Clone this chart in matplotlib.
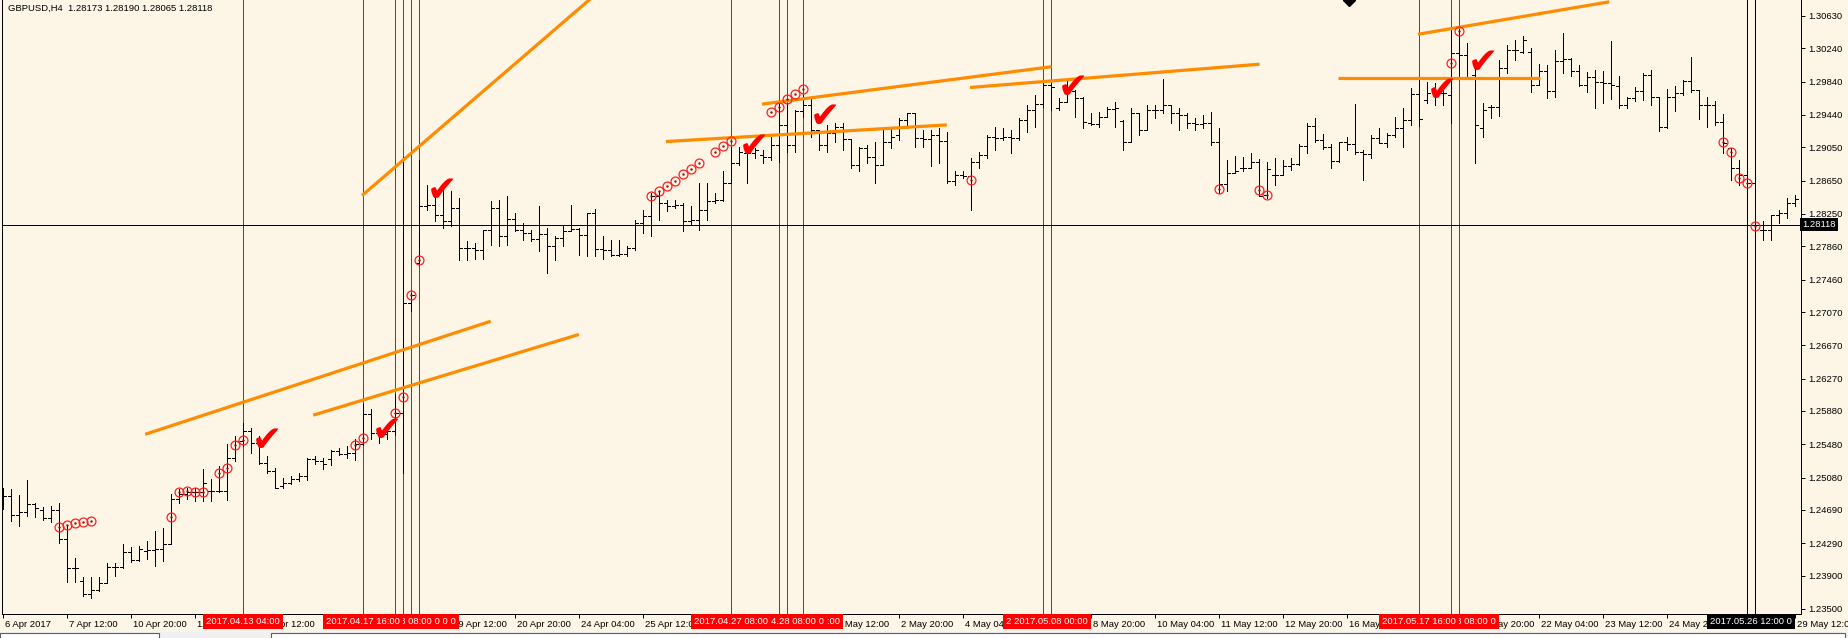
import matplotlib
matplotlib.use("Agg")
import matplotlib.pyplot as plt
import matplotlib.transforms as mtransforms
import numpy as np

# GBPUSD H4 bars, 6 Apr 2017 04:00 .. 29 May 2017 12:00 (bar index = x)
opens = [
    1.2486, 1.2486, 1.2463, 1.2466, 1.2476, 1.2469, 1.2459, 1.2469, 1.2434, 1.2399,
    1.2384, 1.2368, 1.2373, 1.2381, 1.2400, 1.2400, 1.2418, 1.2409, 1.2420, 1.2421,
    1.2422, 1.2428, 1.2482, 1.2488, 1.2490, 1.2490, 1.2492, 1.2492, 1.2492, 1.2532,
    1.2552, 1.2564, 1.2549, 1.2526, 1.2516, 1.2498, 1.2502, 1.2506, 1.2510, 1.2530,
    1.2528, 1.2530, 1.2540, 1.2536, 1.2538, 1.2548, 1.2584, 1.2562, 1.2560, 1.2564,
    1.2586, 1.2718, 1.2766, 1.2834, 1.2836, 1.2824, 1.2817, 1.2832, 1.2784, 1.2784,
    1.2782, 1.2806, 1.2832, 1.2799, 1.2819, 1.2806, 1.2802, 1.2795, 1.2801, 1.2786,
    1.2796, 1.2805, 1.2807, 1.2800, 1.2826, 1.2783, 1.2781, 1.2776, 1.2777, 1.2784,
    1.2814, 1.2822, 1.2846, 1.2838, 1.2834, 1.2836, 1.2816, 1.2818, 1.2830, 1.2840,
    1.2842, 1.2862, 1.2886, 1.2898, 1.2898, 1.2896, 1.2894, 1.2908, 1.2932, 1.2908,
    1.2949, 1.2956, 1.2926, 1.2908, 1.2922, 1.2930, 1.2915, 1.2884, 1.2904, 1.2894,
    1.2884, 1.2912, 1.2920, 1.2938, 1.2946, 1.2916, 1.2915, 1.2920, 1.2913, 1.2864,
    1.2872, 1.2870, 1.2888, 1.2896, 1.2918, 1.2916, 1.2918, 1.2916, 1.2938, 1.2950,
    1.2957, 1.2980, 1.2952, 1.2960, 1.2973, 1.2964, 1.2934, 1.2933, 1.2942, 1.2951,
    1.2937, 1.2912, 1.2946, 1.2926, 1.2950, 1.2950, 1.2956, 1.2946, 1.2944, 1.2934,
    1.2933, 1.2934, 1.2912, 1.2861, 1.2874, 1.2880, 1.2880, 1.2888, 1.2848, 1.2872,
    1.2872, 1.2882, 1.2885, 1.2907, 1.2931, 1.2914, 1.2906, 1.2889, 1.2912, 1.2909,
    1.2900, 1.2897, 1.2916, 1.2910, 1.2920, 1.2928, 1.2938, 1.2969, 1.2962, 1.2970,
    1.2970, 1.2968, 1.3018, 1.3016, 1.2992, 1.2928, 1.2954, 1.2954, 1.3000, 1.3022,
    1.3020, 1.3020, 1.2980, 1.2997, 1.2973, 1.3009, 1.3011, 1.2997, 1.2980, 1.2990,
    1.2984, 1.2982, 1.2979, 1.2956, 1.2964, 1.2973, 1.2992, 1.2966, 1.2930, 1.2966,
    1.2970, 1.2985, 1.2974, 1.2956, 1.2956, 1.2936, 1.2904, 1.2880, 1.2872, 1.2862,
    1.2806, 1.2806, 1.2824, 1.2826, 1.2838]
highs = [
    1.2496, 1.2494, 1.2487, 1.2505, 1.2477, 1.2472, 1.2474, 1.2477, 1.2450, 1.2411,
    1.2388, 1.2388, 1.2388, 1.2405, 1.2405, 1.2428, 1.2424, 1.2426, 1.2432, 1.2444,
    1.2447, 1.2488, 1.2494, 1.2496, 1.2495, 1.2518, 1.2506, 1.2522, 1.2548, 1.2558,
    1.2573, 1.2568, 1.2558, 1.2534, 1.2520, 1.2507, 1.2510, 1.2514, 1.2531, 1.2534,
    1.2531, 1.2541, 1.2544, 1.2546, 1.2554, 1.2596, 1.2590, 1.2568, 1.2568, 1.2608,
    1.2894, 1.2730, 1.2890, 1.2860, 1.2852, 1.2854, 1.2852, 1.2844, 1.2792, 1.2790,
    1.2806, 1.2840, 1.2842, 1.2846, 1.2826, 1.2814, 1.2806, 1.2834, 1.2808, 1.2798,
    1.2811, 1.2836, 1.2808, 1.2826, 1.2831, 1.2798, 1.2794, 1.2794, 1.2786, 1.2818,
    1.2830, 1.2850, 1.2852, 1.2842, 1.2842, 1.2838, 1.2834, 1.2862, 1.2862, 1.2850,
    1.2876, 1.2906, 1.2906, 1.2906, 1.2904, 1.2902, 1.2918, 1.2962, 1.2958, 1.2950,
    1.2968, 1.2964, 1.2926, 1.2932, 1.2934, 1.2934, 1.2915, 1.2906, 1.2908, 1.2912,
    1.2928, 1.2928, 1.2940, 1.2946, 1.2946, 1.2926, 1.2926, 1.2928, 1.2924, 1.2876,
    1.2876, 1.2892, 1.2900, 1.2920, 1.2930, 1.2928, 1.2926, 1.2940, 1.2956, 1.2968,
    1.2986, 1.2982, 1.2964, 1.2986, 1.2974, 1.2966, 1.2946, 1.2948, 1.2954, 1.2960,
    1.2938, 1.2952, 1.2946, 1.2956, 1.2956, 1.2987, 1.2956, 1.2952, 1.2946, 1.2940,
    1.2944, 1.2948, 1.2928, 1.2890, 1.2895, 1.2894, 1.2898, 1.2891, 1.2888, 1.2892,
    1.2890, 1.2892, 1.2909, 1.2934, 1.2940, 1.2921, 1.2909, 1.2912, 1.2918, 1.2957,
    1.2902, 1.2920, 1.2928, 1.2922, 1.2942, 1.2952, 1.2976, 1.2990, 1.2984, 1.2982,
    1.2982, 1.3046, 1.3048, 1.3030, 1.3004, 1.2958, 1.2956, 1.3010, 1.3028, 1.3034,
    1.3039, 1.3024, 1.3005, 1.3004, 1.3022, 1.3042, 1.3012, 1.3004, 1.2996, 1.2998,
    1.2997, 1.3033, 1.2991, 1.2966, 1.2978, 1.2994, 1.2998, 1.2966, 1.2975, 1.2979,
    1.2986, 1.3014, 1.2974, 1.2966, 1.2961, 1.2945, 1.2904, 1.2890, 1.2872, 1.2866,
    1.2816, 1.2824, 1.2830, 1.2844, 1.2848]
lows = [
    1.2470, 1.2456, 1.2450, 1.2462, 1.2460, 1.2457, 1.2454, 1.2429, 1.2382, 1.2382,
    1.2366, 1.2363, 1.2372, 1.2381, 1.2390, 1.2399, 1.2406, 1.2408, 1.2410, 1.2402,
    1.2408, 1.2428, 1.2477, 1.2482, 1.2480, 1.2480, 1.2480, 1.2490, 1.2481, 1.2528,
    1.2546, 1.2538, 1.2524, 1.2513, 1.2495, 1.2496, 1.2500, 1.2504, 1.2505, 1.2524,
    1.2518, 1.2523, 1.2535, 1.2532, 1.2529, 1.2547, 1.2554, 1.2550, 1.2554, 1.2559,
    1.2514, 1.2708, 1.2766, 1.2830, 1.2816, 1.2808, 1.2810, 1.2770, 1.2770, 1.2771,
    1.2771, 1.2788, 1.2786, 1.2788, 1.2804, 1.2794, 1.2792, 1.2780, 1.2754, 1.2770,
    1.2786, 1.2804, 1.2776, 1.2774, 1.2774, 1.2771, 1.2774, 1.2774, 1.2774, 1.2782,
    1.2802, 1.2799, 1.2818, 1.2828, 1.2832, 1.2804, 1.2812, 1.2806, 1.2818, 1.2838,
    1.2840, 1.2862, 1.2884, 1.2862, 1.2892, 1.2886, 1.2890, 1.2888, 1.2900, 1.2900,
    1.2942, 1.2918, 1.2902, 1.2900, 1.2912, 1.2902, 1.2880, 1.2876, 1.2886, 1.2862,
    1.2884, 1.2904, 1.2914, 1.2928, 1.2906, 1.2906, 1.2882, 1.2886, 1.2862, 1.2860,
    1.2868, 1.2830, 1.2880, 1.2892, 1.2902, 1.2914, 1.2898, 1.2914, 1.2924, 1.2930,
    1.2954, 1.2950, 1.2950, 1.2960, 1.2942, 1.2928, 1.2932, 1.2930, 1.2942, 1.2930,
    1.2902, 1.2912, 1.2920, 1.2926, 1.2940, 1.2946, 1.2934, 1.2926, 1.2928, 1.2926,
    1.2928, 1.2908, 1.2850, 1.2852, 1.2874, 1.2876, 1.2880, 1.2846, 1.2844, 1.2860,
    1.2872, 1.2878, 1.2884, 1.2898, 1.2912, 1.2903, 1.2880, 1.2888, 1.2902, 1.2897,
    1.2866, 1.2892, 1.2910, 1.2906, 1.2918, 1.2906, 1.2932, 1.2931, 1.2958, 1.2956,
    1.2956, 1.2934, 1.2990, 1.2988, 1.2886, 1.2918, 1.2940, 1.2943, 1.2994, 1.3010,
    1.3018, 1.2972, 1.2980, 1.2964, 1.2966, 1.2994, 1.2991, 1.2979, 1.2972, 1.2952,
    1.2958, 1.2963, 1.2952, 1.2952, 1.2961, 1.2962, 1.2956, 1.2925, 1.2928, 1.2949,
    1.2968, 1.2972, 1.2939, 1.2930, 1.2932, 1.2898, 1.2866, 1.2860, 1.2858, 1.2807,
    1.2794, 1.2794, 1.2814, 1.2820, 1.2834]
closes = [
    1.2486, 1.2463, 1.2466, 1.2476, 1.2471, 1.2459, 1.2469, 1.2434, 1.2399, 1.2399,
    1.2368, 1.2373, 1.2381, 1.2400, 1.2400, 1.2418, 1.2409, 1.2422, 1.2421, 1.2422,
    1.2428, 1.2482, 1.2488, 1.2490, 1.2490, 1.2502, 1.2492, 1.2492, 1.2532, 1.2552,
    1.2564, 1.2549, 1.2526, 1.2516, 1.2496, 1.2502, 1.2506, 1.2510, 1.2530, 1.2528,
    1.2524, 1.2540, 1.2536, 1.2538, 1.2548, 1.2584, 1.2562, 1.2560, 1.2564, 1.2586,
    1.2718, 1.2728, 1.2834, 1.2836, 1.2824, 1.2817, 1.2832, 1.2784, 1.2784, 1.2782,
    1.2806, 1.2832, 1.2799, 1.2819, 1.2806, 1.2802, 1.2795, 1.2801, 1.2786, 1.2796,
    1.2805, 1.2807, 1.2800, 1.2826, 1.2783, 1.2782, 1.2776, 1.2777, 1.2784, 1.2814,
    1.2822, 1.2846, 1.2838, 1.2834, 1.2836, 1.2816, 1.2818, 1.2830, 1.2840, 1.2842,
    1.2862, 1.2886, 1.2900, 1.2898, 1.2902, 1.2894, 1.2908, 1.2932, 1.2908, 1.2949,
    1.2956, 1.2926, 1.2908, 1.2922, 1.2930, 1.2915, 1.2884, 1.2904, 1.2894, 1.2884,
    1.2912, 1.2918, 1.2938, 1.2946, 1.2916, 1.2915, 1.2920, 1.2913, 1.2864, 1.2872,
    1.2870, 1.2888, 1.2896, 1.2918, 1.2916, 1.2918, 1.2916, 1.2938, 1.2950, 1.2957,
    1.2980, 1.2978, 1.2960, 1.2974, 1.2964, 1.2936, 1.2933, 1.2942, 1.2951, 1.2952,
    1.2912, 1.2946, 1.2926, 1.2950, 1.2950, 1.2956, 1.2946, 1.2944, 1.2934, 1.2933,
    1.2934, 1.2912, 1.2861, 1.2874, 1.2876, 1.2880, 1.2888, 1.2846, 1.2879, 1.2872,
    1.2882, 1.2885, 1.2907, 1.2931, 1.2914, 1.2906, 1.2889, 1.2912, 1.2909, 1.2900,
    1.2897, 1.2916, 1.2910, 1.2920, 1.2928, 1.2938, 1.2969, 1.2939, 1.2970, 1.2970,
    1.2970, 1.3018, 1.3016, 1.2990, 1.2932, 1.2950, 1.2954, 1.3000, 1.3022, 1.3022,
    1.3034, 1.2980, 1.2997, 1.2973, 1.3009, 1.3011, 1.2997, 1.2980, 1.2990, 1.2984,
    1.2982, 1.2980, 1.2956, 1.2964, 1.2973, 1.2992, 1.2966, 1.2930, 1.2966, 1.2970,
    1.2985, 1.2974, 1.2956, 1.2956, 1.2936, 1.2910, 1.2880, 1.2872, 1.2862, 1.2812,
    1.2806, 1.2824, 1.2826, 1.2838, 1.2843]

# time axis labels, one every 8 bars
time_labels = ["6 Apr 2017", "7 Apr 12:00", "10 Apr 20:00", "12 Apr 04:00", "13 Apr 12:00",
               "14 Apr 20:00", "18 Apr 04:00", "19 Apr 12:00", "20 Apr 20:00", "24 Apr 04:00",
               "25 Apr 12:00", "26 Apr 20:00", "28 Apr 04:00", "1 May 12:00", "2 May 20:00",
               "4 May 04:00", "5 May 12:00", "8 May 20:00", "10 May 04:00", "11 May 12:00",
               "12 May 20:00", "16 May 04:00", "17 May 12:00", "18 May 20:00", "22 May 04:00",
               "23 May 12:00", "24 May 20:00", "26 May 04:00", "29 May 12:00"]
price_ticks = [1.30630, 1.30240, 1.29840, 1.29440, 1.29050, 1.28650, 1.28250, 1.27860,
               1.27460, 1.27070, 1.26670, 1.26270, 1.25880, 1.25480, 1.25080, 1.24690,
               1.24290, 1.23900, 1.23500]
bid = 1.28118

# vertical line objects with their time labels
red_bars = [30, 45, 49, 50, 51, 52, 91, 97, 98, 100, 130, 131, 177, 181, 182]
red_texts = ["2017.04.13 04:00", "2017.04.17 16:00", "2017.04.18 08:00", "2017.04.18 12:00",
             "2017.04.18 16:00", "2017.04.18 20:00", "2017.04.27 08:00", "2017.04.28 08:00",
             "2017.04.28 12:00", "2017.04.28 20:00", "2017.05.05 20:00", "2017.05.08 00:00",
             "2017.05.17 16:00", "2017.05.18 08:00", "2017.05.18 12:00"]
black_bars = [218, 219]
black_texts = ["2017.05.26 12:00", "2017.05.26 16:00"]

# trend lines (bar, price) -> (bar, price)
trend_lines = [
    ((44.9, 1.2847), (73.5, 1.3084)),
    ((17.8, 1.2560), (61.0, 1.2696)),
    ((38.8, 1.2583), (72.0, 1.2680)),
    ((82.9, 1.2912), (118.0, 1.2932)),
    ((94.9, 1.2957), (131.1, 1.3002)),
    ((120.9, 1.2977), (157.1, 1.3005)),
    ((166.9, 1.2988), (192.1, 1.2988)),
    ((176.9, 1.3041), (200.8, 1.3080)),
]

# check mark arrows
check_bars = [33.0, 48.0, 54.9, 93.9, 102.8, 133.8, 179.9, 185.0]
check_prices = [1.2552, 1.2564, 1.2853, 1.2906, 1.2941, 1.2976, 1.2973, 1.3006]

# circle signals
circle_bars = [7, 8, 9, 10, 11, 21, 22, 23, 24, 25, 27, 28, 29, 30, 44, 45, 49, 50, 51, 52,
               81, 82, 83, 84, 85, 86, 87, 89, 90, 91, 96, 97, 98, 99, 100, 121, 152, 157, 158,
               181, 182, 215, 216, 217, 218, 219]
circle_prices = [1.2449, 1.2451, 1.2453, 1.2455, 1.2456, 1.2461, 1.2490, 1.2492, 1.2491, 1.2491,
                 1.2514, 1.2519, 1.2547, 1.2553, 1.2547, 1.2555, 1.2586, 1.2605, 1.2728, 1.2769,
                 1.2846, 1.2852, 1.2859, 1.2865, 1.2873, 1.2879, 1.2886, 1.2899, 1.2907, 1.2913,
                 1.2948, 1.2954, 1.2963, 1.2969, 1.2975, 1.2866, 1.2855, 1.2854, 1.2848,
                 1.3007, 1.3045, 1.2911, 1.2900, 1.2868, 1.2862, 1.2811]

bg = "#FDF5E6"
font = "Liberation Sans"
fs = 6.8
px = 0.72  # one pixel in points at 100 dpi

fig = plt.figure(figsize=(18.48, 6.38), dpi=100)
fig.patch.set_facecolor(bg)
ax = fig.add_axes([2 / 1848, 24 / 638, 1799 / 1848, 614 / 638])
ax.set_facecolor(bg)
ax.set_xlim(-0.1, 224.775)
ax.set_ylim(1.23439, 1.30822)

x = np.arange(len(opens))

# vertical lines
for b in red_bars:
    ax.axvline(b, color="red", lw=px, antialiased=False, zorder=1)
for b in black_bars:
    ax.axvline(b, color="black", lw=px, antialiased=False, zorder=1)

# bid line
ax.axhline(bid, color="black", lw=px, antialiased=False, zorder=2)

# OHLC bars
ax.vlines(x, lows, highs, color="black", lw=px, antialiased=False, zorder=3)
ax.hlines(opens, x - 0.4, x, color="black", lw=px, antialiased=False, zorder=3)
ax.hlines(closes, x, x + 0.4, color="black", lw=px, antialiased=False, zorder=3)

# trend lines
for (x0, y0), (x1, y1) in trend_lines:
    ax.plot([x0, x1], [y0, y1], color="#FF8C00", lw=2.3, solid_capstyle="butt", zorder=4)

# circles
ax.plot(circle_bars, circle_prices, ls="none", marker="o", ms=6.4, mfc="none",
        mec="#FF2020", mew=0.9, zorder=5)
ax.plot(circle_bars, circle_prices, ls="none", marker="o", ms=1.7, mfc="#A00000",
        mec="none", zorder=5)

# check marks
for b, p in zip(check_bars, check_prices):
    ax.text(b, p, "\u2714", color="red", fontsize=26, ha="center", va="center",
            family="DejaVu Sans", zorder=6)

# diamond cut by the top edge
ax.plot([168.3], [1.30822], marker="D", ms=6.5, color="black", zorder=6)

# axes frame
ax.spines["top"].set_visible(False)
for side in ["left", "right", "bottom"]:
    ax.spines[side].set_linewidth(px)
    ax.spines[side].set_color("black")

ax.yaxis.tick_right()
ax.set_yticks(price_ticks)
ax.set_yticklabels(["%.5f" % p for p in price_ticks], family=font, fontsize=fs)
ax.tick_params(axis="y", direction="out", length=3, width=px, pad=2)

ax.set_xticks(np.arange(0, 225, 8))
ax.set_xticklabels(time_labels, family=font, fontsize=fs)
ax.tick_params(axis="x", direction="out", length=3, width=px, pad=1.5)
offset = mtransforms.ScaledTranslation(2 / 100, 0, fig.dpi_scale_trans)
for lbl in ax.get_xticklabels():
    lbl.set_horizontalalignment("left")
    lbl.set_transform(lbl.get_transform() + offset)

# bid price label on the price scale
ax.text(1.0008, bid, "1.28118", transform=ax.get_yaxis_transform(), color="white",
        family=font, fontsize=fs, ha="left", va="center", zorder=10, clip_on=False,
        bbox=dict(facecolor="black", edgecolor="none", pad=1.4))

# time labels of the vertical lines, earlier ones on top
xt = ax.get_xaxis_transform()
n = len(red_bars)
for k, (b, t) in enumerate(zip(red_bars, red_texts)):
    z = 20 + n - k
    if b == 131:
        z = 40
    ax.text(b, -0.0125, t, transform=xt, color="white", family=font, fontsize=fs,
            ha="center", va="center", zorder=z, clip_on=False,
            bbox=dict(facecolor="red", edgecolor="none", pad=2.3))
for k, (b, t) in enumerate(zip(black_bars, black_texts)):
    ax.text(b, -0.0125, t, transform=xt, color="white", family=font, fontsize=fs,
            ha="center", va="center", zorder=20 - k, clip_on=False,
            bbox=dict(facecolor="black", edgecolor="none", pad=2.3))

# symbol header
ax.text(6 / 1799, 1 - 8 / 614, "GBPUSD,H4  1.28173 1.28190 1.28065 1.28118",
        transform=ax.transAxes, family=font, fontsize=fs, ha="left", va="center", zorder=10)

# tab strip at the bottom of the window
fig.patches.append(plt.Rectangle((0, 0), 1, 6 / 638, transform=fig.transFigure,
                                 facecolor="#F0F0F0", edgecolor="none", zorder=0))
for x0, w in [(0, 159), (271, 1574)]:
    fig.patches.append(plt.Rectangle((x0 / 1848, -2 / 638), w / 1848, 7 / 638,
                                     transform=fig.transFigure, facecolor="white",
                                     edgecolor="#606060", lw=0.8, zorder=1))

fig.savefig("out.png", dpi=100, facecolor=bg)
